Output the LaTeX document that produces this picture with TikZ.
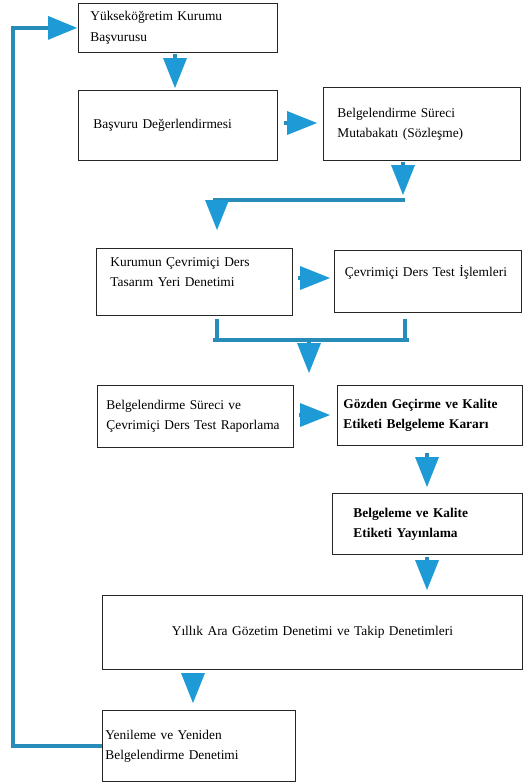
\documentclass[tikz,border=0pt]{standalone}
\usepackage{fontspec}
\setmainfont{Liberation Serif}
\usetikzlibrary{arrows.meta}
\definecolor{lineblue}{HTML}{288CB9}
\definecolor{tipblue}{HTML}{1E9BD7}
\begin{document}
\begin{tikzpicture}[x=1pt,y=-1pt,
  bx/.style={draw=black!85, line width=0.8pt, anchor=north west, align=left,
    inner ysep=0pt, font=\fontsize{13.4}{20}\selectfont},
  arr/.style={draw=lineblue, line width=4pt,
    -{Triangle[length=30pt,width=24pt,color=tipblue,line width=0pt]}},
  bar/.style={draw=lineblue, line width=4.5pt},
  loopline/.style={draw=lineblue, line width=4.5pt,
    -{Triangle[length=29pt,width=24pt,color=tipblue,line width=0pt]}}]
\useasboundingbox (0,0) rectangle (524,782);
\fill[white] (0,0) rectangle (524,782);

\node[bx, minimum height=49pt, text width=175pt, inner xsep=12pt] (b1) at (78,3)
  {Yükseköğretim Kurumu\\[1pt]Başvurusu};
\node[bx, minimum height=70pt, text width=169pt, inner xsep=15pt] (b2) at (78,90)
  {Başvuru Değerlendirmesi};
\node[bx, minimum height=73pt, text width=169pt, inner xsep=14pt] (b3) at (323,87)
  {Belgelendirme Süreci\\Mutabakatı (Sözleşme)};
\node[bx, minimum height=67pt, text width=168pt, inner xsep=14pt] (b4) at (96,248)
  {Kurumun Çevrimiçi Ders\\Tasarım Yeri Denetimi\\\mbox{}};
\node[bx, minimum height=62pt, text width=166pt, inner xsep=10.5pt] (b5) at (334,250)
  {Çevrimiçi Ders Test İşlemleri\\\mbox{}};
\node[bx, minimum height=62pt, text width=178pt, inner xsep=9pt] (b6) at (97,385)
  {Belgelendirme Süreci ve\\Çevrimiçi Ders Test Raporlama};
\node[bx, minimum height=60pt, text width=173pt, inner xsep=6pt] (b7) at (337,385)
  {\bfseries Gözden Geçirme ve Kalite\\\bfseries Etiketi Belgeleme Kararı};
\node[bx, minimum height=61pt, text width=148pt, inner xsep=21pt] (b8) at (332,493)
  {\bfseries Belgeleme ve Kalite\\\bfseries Etiketi Yayınlama};
\node[bx, minimum height=74pt, text width=420pt, inner xsep=0pt, align=center] (b9) at (102,595)
  {Yıllık Ara Gözetim Denetimi ve Takip Denetimleri};
\node[bx, minimum height=71pt, text width=187pt, inner xsep=3pt] (b10) at (102,710)
  {Yenileme ve Yeniden\\Belgelendirme Denetimi};

\coordinate (j1a) at (213,200);
\coordinate (j1b) at (405,200);
\coordinate (j2a) at (213,340);
\coordinate (j2b) at (409,340);
\coordinate (loopc) at (13,400);

% arrows
\draw[arr, shorten <=1pt, shorten >=2pt] (b1.south -| 175,0) -- (b2.north -| 175,0);
\draw[arr, shorten <=6pt, shorten >=6pt] (b2.east |- 0,123) -- (b3.west |- 0,123);
\draw[bar] (j1a) -- (j1b);
\draw[arr, shorten <=1pt, shorten >=5pt] (b3.south -| 403,0) -- (j1b -| 403,0);
\draw[arr, shorten >=18pt] (j1a -| 217,0) -- (b4.north -| 217,0);
\draw[arr, shorten <=5pt, shorten >=4pt] (b4.east |- 0,278) -- (b5.west |- 0,278);
\draw[lineblue, line width=4pt, shorten <=3pt] (b4.south -| 217,0) -- (j2a -| 217,0);
\draw[lineblue, line width=4pt, shorten <=6pt] (b5.south -| 405,0) -- (j2b -| 405,0);
\draw[bar] (j2a) -- (j2b);
\draw[arr, shorten >=12pt] (j2a -| 309,0) -- (b6.north -| 309,0);
\draw[arr, shorten <=5pt, shorten >=7pt] (b6.east |- 0,415) -- (b7.west |- 0,415);
\draw[arr, shorten <=7pt, shorten >=6pt] (b7.south -| 427,0) -- (b8.north -| 427,0);
\draw[arr, shorten <=2pt, shorten >=5pt] (b8.south -| 427,0) -- (b9.north -| 427,0);
\draw[arr, shorten <=3pt, shorten >=7pt] (b9.south -| 193,0) -- (b10.north -| 193,0);
\draw[loopline, shorten >=1pt] (b10.west) -| (loopc) |- (b1.west);
\end{tikzpicture}
\end{document}
